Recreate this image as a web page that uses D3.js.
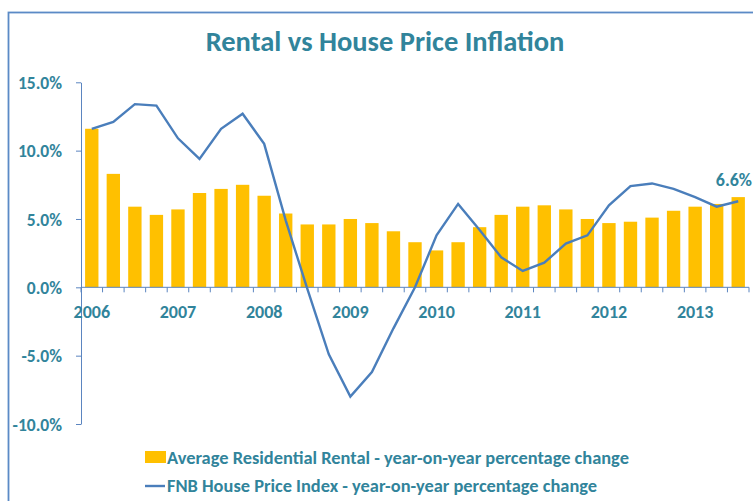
<!DOCTYPE html>
<html><head><meta charset="utf-8">
<script src="https://cdn.jsdelivr.net/npm/d3@7"></script>
<style>
html,body{margin:0;padding:0;background:#fff;overflow:hidden;}
svg{display:block;}
text{font-family:Carlito,Lato,"Open Sans",sans-serif;font-weight:bold;fill:#31849B;}
</style></head>
<body>
<svg id="c" width="753" height="501"></svg>
<script>
const years = ["2006","2007","2008","2009","2010","2011","2012","2013"];
const quarters = ["Q1","Q2","Q3","Q4"];
const categories = [];
years.forEach(y => quarters.forEach(q => { if (categories.length < 31) categories.push(y + " " + q); }));
const rentalValues = [11.6,8.3,5.9,5.3,5.7,6.9,7.2,7.5,6.7,5.4,4.6,4.6,5.0,4.7,4.1,3.3,2.7,3.3,4.4,5.3,5.9,6.0,5.7,5.0,4.7,4.8,5.1,5.6,5.9,6.1,6.6];
const housePriceValues = [11.6,12.1,13.4,13.3,10.9,9.4,11.6,12.7,10.5,4.9,-0.1,-4.9,-8.0,-6.2,-3.0,0.0,3.8,6.1,4.2,2.2,1.2,1.8,3.2,3.8,6.0,7.4,7.6,7.2,6.6,5.9,6.3];
const yTicks = [-10,-5,0,5,10,15];
const titleText = "Rental vs House Price Inflation";
const legendRental = "Average Residential Rental - year-on-year percentage change";
const legendHouse = "FNB House Price Index - year-on-year percentage change";

const svg = d3.select("#c");
const axisColor = "#5B85C0";
const barColor = "#FFC000";
const lineColor = "#4A7EBB";

// outer border
svg.append("rect").attr("x",8.5).attr("y",12.5).attr("width",800).attr("height",600)
  .attr("fill","none").attr("stroke","#5B8AC6").attr("stroke-width",1.8);

const x = d3.scaleBand().domain(categories).range([81,749]).paddingInner(0.38).paddingOuter(0.19);
const y = d3.scaleLinear().domain([-10,15]).range([424,82.3]);
const step = x.step();
const cx = d => x(d) + x.bandwidth()/2;

// title
svg.append("text").attr("x",385).attr("y",51).attr("text-anchor","middle")
  .style("font-size","28.5px").text(titleText);

// bars
svg.append("g").selectAll("rect").data(categories).join("rect")
  .attr("x", d => x(d)).attr("width", x.bandwidth())
  .attr("y", (d,i) => y(Math.max(0, rentalValues[i])))
  .attr("height", (d,i) => Math.abs(y(rentalValues[i]) - y(0)))
  .attr("fill", barColor);

// y axis
const yAxis = svg.append("g").attr("transform","translate(81,0)")
  .call(d3.axisLeft(y).tickValues(yTicks).tickSize(5).tickSizeOuter(0).tickPadding(14)
    .tickFormat(d => d.toFixed(1) + "%"));
yAxis.select(".domain").attr("stroke", axisColor);
yAxis.selectAll(".tick line").attr("stroke", axisColor);
yAxis.selectAll("text").style("font-size","17.5px").attr("fill","#31849B").attr("dy","0.36em");

// x axis
const x0 = y(0);
const gx = svg.append("g");
gx.append("line").attr("x1",81).attr("x2",749).attr("y1",x0).attr("y2",x0).attr("stroke",axisColor);
const bounds = categories.map(c => x(c) - step*0.19).concat([x(categories[categories.length-1]) - step*0.19 + step]);
gx.selectAll("line.t").data(bounds).join("line").attr("class","t")
  .attr("x1", d => d).attr("x2", d => d).attr("y1", x0).attr("y2", x0 + 5).attr("stroke", axisColor);
gx.selectAll("text").data(categories.filter(c => c.endsWith("Q1"))).join("text")
  .attr("x", d => cx(d)).attr("y", 318).attr("text-anchor","middle")
  .style("font-size","18px").text(d => d.slice(0,4));

// line
const line = d3.line().x((d,i) => cx(categories[i])).y(d => y(d));
svg.append("path").datum(housePriceValues).attr("d", line)
  .attr("fill","none").attr("stroke", lineColor).attr("stroke-width", 2.4).attr("stroke-linejoin","miter");

// data label (kept inside the canvas)
const last = categories.length - 1;
svg.append("text").attr("x", 752).attr("y", y(rentalValues[last]) - 11)
  .attr("text-anchor","end").style("font-size","18px").text(rentalValues[last].toFixed(1) + "%");

// legend
svg.append("rect").attr("x",145).attr("y",451).attr("width",21).attr("height",12).attr("fill",barColor);
svg.append("text").attr("x",167).attr("y",464).style("font-size","18.4px").text(legendRental);
svg.append("line").attr("x1",145).attr("x2",165).attr("y1",486).attr("y2",486).attr("stroke",lineColor).attr("stroke-width",2.4);
svg.append("text").attr("x",167).attr("y",492).style("font-size","18.4px").text(legendHouse);
</script>
</body></html>
